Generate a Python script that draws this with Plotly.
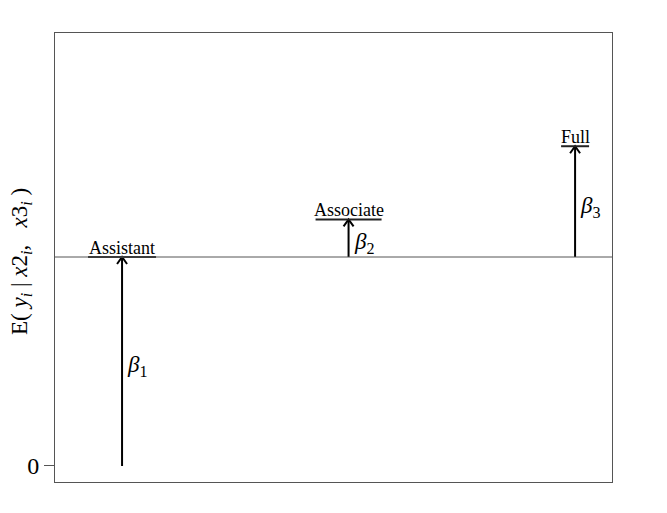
import plotly.graph_objects as go

# ---- data ----
categories = ["Assistant", "Associate", "Full"]
x_pos = [1, 2, 3]
beta_names = ["β1", "β2", "β3"]
beta_values = [1.0, 0.18, 0.53]
y_ticks = [0]
y_tick_labels = ["0"]

# ---- layout geometry ----
W, H = 667, 513
margin = dict(l=55, r=55, t=33, b=31)
x_range = [0.704, 3.163]
y_range = [-0.0766, 2.0718]
plot_w = W - margin["l"] - margin["r"]
plot_h = H - margin["t"] - margin["b"]
px_x = (x_range[1] - x_range[0]) / plot_w   # data units per pixel
px_y = (y_range[1] - y_range[0]) / plot_h

base = beta_values[0]
starts = [0, base, base]
ends = [base, base + beta_values[1], base + beta_values[2]]
label_half_px = [34, 33, 14]

SERIF = "Liberation Serif, Times New Roman, serif"

fig = go.Figure()

for i, cat in enumerate(categories):
    x = x_pos[i]
    # arrow shaft
    fig.add_trace(go.Scatter(x=[x, x], y=[starts[i], ends[i]], mode="lines",
                             line=dict(color="black", width=2), hoverinfo="skip",
                             showlegend=False))
    # open arrowhead
    hx, hy = 5 * px_x, 7 * px_y
    fig.add_trace(go.Scatter(x=[x - hx, x, x + hx], y=[ends[i] - hy, ends[i], ends[i] - hy],
                             mode="lines", line=dict(color="black", width=2),
                             hoverinfo="skip", showlegend=False))
    # underline of the category label
    hw = label_half_px[i] * px_x
    fig.add_trace(go.Scatter(x=[x - hw, x + hw], y=[ends[i], ends[i]], mode="lines",
                             line=dict(color="#222", width=2), hoverinfo="skip",
                             showlegend=False))
    # category label
    fig.add_annotation(x=x, y=ends[i], text=cat, showarrow=False,
                       xanchor="center", yanchor="bottom", yshift=-2.5,
                       font=dict(family=SERIF, size=18, color="black"))
    # beta label
    fig.add_annotation(x=x, y=(starts[i] + ends[i]) / 2,
                       text="<i>β</i><sub>%s</sub>" % beta_names[i][1:],
                       showarrow=False, xanchor="left", yanchor="middle",
                       xshift=3, yshift=-5,
                       font=dict(family=SERIF, size=23, color="black"))

# baseline level
fig.add_shape(type="line", xref="paper", x0=0, x1=1, yref="y", y0=base, y1=base,
              line=dict(color="#555", width=1))

# y-axis title (rotated annotation)
sp = "&#160;"
y_title = ("E(" + sp + "<i>y</i><sub><i>i</i></sub>" + sp + "|" + sp + "<i>x</i>2<sub><i>i</i></sub>,"
           + sp * 3 + "<i>x</i>3<sub><i>i</i></sub>" + sp + ")")
fig.add_annotation(xref="paper", yref="paper", x=(21 - margin["l"]) / plot_w,
                   y=(H - margin["b"] - 262) / plot_h, text=y_title, textangle=-90,
                   showarrow=False, xanchor="center", yanchor="middle",
                   font=dict(family=SERIF, size=23, color="black"))

fig.update_layout(
    width=W, height=H, margin=margin,
    plot_bgcolor="white", paper_bgcolor="white",
    xaxis=dict(range=x_range, showgrid=False, zeroline=False, showticklabels=False,
               ticks="", showline=True, mirror=True, linecolor="#555", linewidth=1,
               automargin=False),
    yaxis=dict(range=y_range, showgrid=False, zeroline=False,
               tickvals=y_ticks, ticktext=y_tick_labels, ticks="outside", ticklen=10,
               tickcolor="#555", tickfont=dict(family=SERIF, size=24, color="black"),
               showline=True, mirror=True, linecolor="#555", linewidth=1,
               automargin=False),
)

fig.write_html("out.html", post_script="document.body.style.margin='0';",
               config={"displayModeBar": False})
